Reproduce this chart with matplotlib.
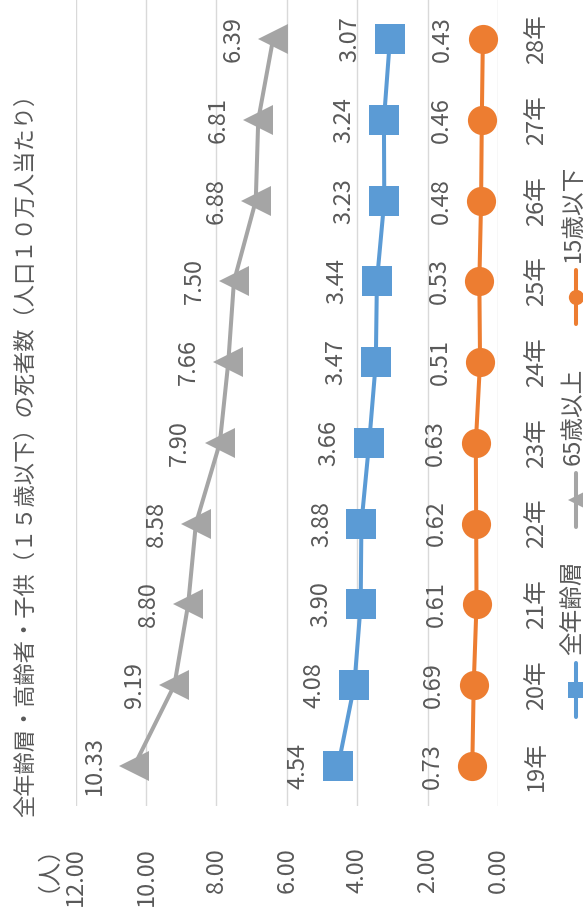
import matplotlib
matplotlib.use("Agg")
import matplotlib.pyplot as plt
from matplotlib.lines import Line2D

plt.rcParams['font.family'] = ['Noto Sans CJK JP', 'DejaVu Sans']

# ---- data ----
years = ['19年', '20年', '21年', '22年', '23年', '24年', '25年', '26年', '27年', '28年']
all_ages = [4.54, 4.08, 3.90, 3.88, 3.66, 3.47, 3.44, 3.23, 3.24, 3.07]
elderly = [10.33, 9.19, 8.80, 8.58, 7.90, 7.66, 7.50, 6.88, 6.81, 6.39]
children = [0.73, 0.69, 0.61, 0.62, 0.63, 0.51, 0.53, 0.48, 0.46, 0.43]
series_names = ['全年齢層', '65歳以上', '15歳以下']
value_ticks = [0, 2, 4, 6, 8, 10, 12]
title = '全年齢層・高齢者・子供（１５歳以下）の死者数（人口１０万人当たり）'
unit = '（人）'

# ---- style ----
W, H, DPI = 583, 917, 100
TXT = '#595959'
GRID = '#D9D9D9'
BLUE, GREY, ORANGE = '#5B9BD5', '#A5A5A5', '#ED7D31'
FS = 17

fig = plt.figure(figsize=(W / DPI, H / DPI), dpi=DPI)


def fx(px):
    return px / W


def fy(py_top):
    return (H - py_top) / H


# plot area in pixel coordinates (value axis runs right-to-left)
left_px, right_px = 75.5, 498
top_px, bottom_px = -1, 806
ax = fig.add_axes([fx(left_px), fy(bottom_px), fx(right_px - left_px),
                   (bottom_px - top_px) / H])
ax.set_xlim(12, 0)
ax.set_ylim(-0.5, len(years) - 0.5)

for s in ax.spines.values():
    s.set_visible(False)

ax.set_xticks(value_ticks)
ax.set_xticklabels([f'{v:.2f}' for v in value_ticks], rotation=90,
                   color=TXT, fontsize=FS)
ax.tick_params(axis='x', length=0, pad=29.5)
ax.grid(axis='x', color=GRID, lw=1.0)
ax.set_axisbelow(True)

ypos = list(range(len(years)))
ax.yaxis.tick_right()
ax.set_yticks(ypos)
ax.set_yticklabels(years, rotation=90, va='center', color=TXT, fontsize=FS)
ax.tick_params(axis='y', length=0, pad=19.5)

series = [
    (all_ages, BLUE, 's'),
    (elderly, GREY, '<'),
    (children, ORANGE, 'o'),
]
for vals, col, mk in series:
    ax.plot(vals, ypos, color=col, lw=2.9, marker=mk, ms=21,
            markeredgewidth=0, solid_capstyle='round', clip_on=False, zorder=3)
    for v, y in zip(vals, ypos):
        ax.annotate(f'{v:.2f}', xy=(v, y), xytext=(-40, 0),
                    textcoords='offset pixels', rotation=90,
                    ha='center', va='center', color=TXT, fontsize=FS)

# title and unit label
fig.text(fx(25), fy(450), title, rotation=90, ha='center', va='center',
         color=TXT, fontsize=16)
fig.text(fx(36), fy(857), unit, rotation=90, ha='center', va='center',
         color=TXT, fontsize=FS)

# legend (entries stacked along the vertical direction)
legend_x = 576
legend_centers = [690, 500, 297]
for (vals, col, mk), name, cy in zip(series, series_names, legend_centers):
    fig.add_artist(Line2D([fx(legend_x)] * 2, [fy(cy + 27), fy(cy - 27)],
                          transform=fig.transFigure, color=col, lw=2.9,
                          solid_capstyle='round'))
    fig.add_artist(Line2D([fx(legend_x)], [fy(cy)], transform=fig.transFigure,
                          marker=mk, ms=11, color=col, markeredgewidth=0))
    fig.text(fx(legend_x - 3), fy(cy - 35), name, rotation=90, ha='center',
             va='bottom', color=TXT, fontsize=FS)

fig.savefig('out.png', dpi=DPI, facecolor='white')
